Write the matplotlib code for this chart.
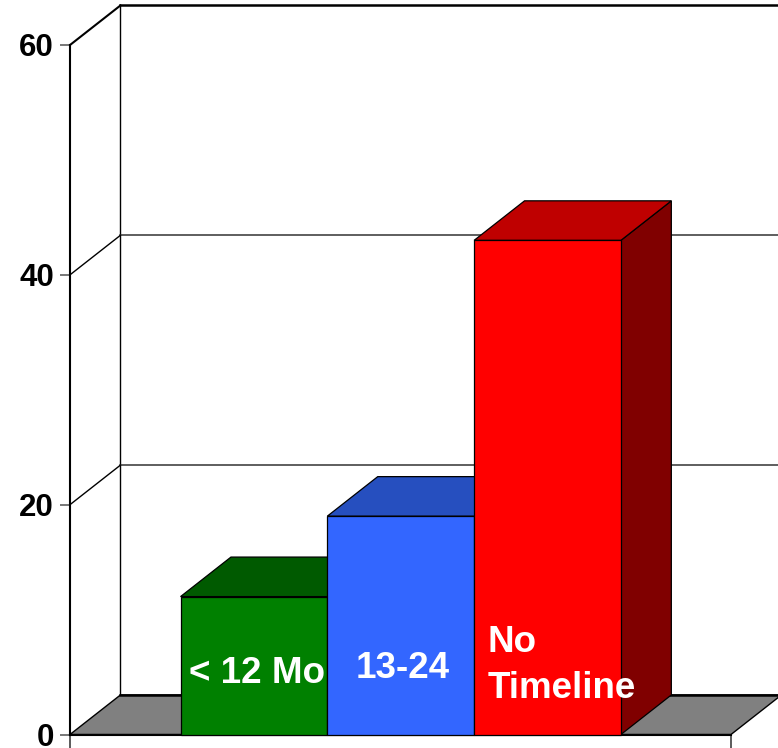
import matplotlib
matplotlib.use("Agg")
import matplotlib.pyplot as plt
from matplotlib.patches import Polygon

plt.rcParams["font.family"] = ["Liberation Sans", "DejaVu Sans"]
plt.rcParams["font.weight"] = "bold"

# Chart data
categories = ["< 12 Mo", "13-24", "No\nTimeline"]
values = [12, 19, 43]
y_ticks = [0, 20, 40, 60]
y_tick_labels = ["0", "20", "40", "60"]

# Face colours for each bar: front, top, side
front_colors = ["#008000", "#3366FF", "#FF0000"]
top_colors = ["#005A00", "#264FBF", "#BF0000"]
side_colors = ["#004000", "#1A3380", "#800000"]

# Geometry of the pseudo-3D box (data units)
bar_width = 1.0
x_min, x_max = -1.253, 3.25
y_min, y_max = 0, 60
depth_x = 0.3435
depth_y = 3.44

fig = plt.figure(figsize=(7.78, 7.48), dpi=100)
ax = fig.add_axes([70 / 778, (748 - 734.5) / 748, 661 / 778, 689.5 / 748])
ax.set_xlim(x_min, x_max)
ax.set_ylim(y_min, y_max)
ax.patch.set_visible(False)

# Back wall: vertical edge, gridlines and top edge
bx = x_min + depth_x
ax.plot([bx, bx], [y_min + depth_y, y_max + depth_y], color="black", lw=1.0,
        clip_on=False, zorder=1)
for t in y_ticks[1:]:
    top = t == y_max
    ax.plot([bx, x_max + depth_x * 2], [t + depth_y, t + depth_y],
            color="black" if top else "#333333", lw=1.8 if top else 1.1,
            clip_on=False, zorder=1)
    # side wall diagonals
    ax.plot([x_min, bx], [t, t + depth_y], color="black",
            lw=1.5 if top else 1.0, clip_on=False, zorder=1)

# Floor
floor = Polygon([(x_min, 0), (x_max, 0), (x_max + depth_x, depth_y),
                 (x_min + depth_x, depth_y)], closed=True,
                facecolor="#808080", edgecolor="black", lw=1.0,
                clip_on=False, zorder=2)
ax.add_patch(floor)
ax.plot([bx, x_max + depth_x], [depth_y, depth_y], color="black", lw=1.8,
        clip_on=False, zorder=2.1)

# Bars
centers = [i for i in range(len(values))]
for i, (c, v) in enumerate(zip(centers, values)):
    x0, x1 = c - bar_width / 2, c + bar_width / 2
    z = 3 + i
    side = Polygon([(x1, 0), (x1 + depth_x, depth_y), (x1 + depth_x, v + depth_y),
                    (x1, v)], closed=True, facecolor=side_colors[i],
                   edgecolor="black", lw=0.9, zorder=z, clip_on=False)
    top = Polygon([(x0, v), (x1, v), (x1 + depth_x, v + depth_y),
                   (x0 + depth_x, v + depth_y)], closed=True,
                  facecolor=top_colors[i], edgecolor="black", lw=0.9,
                  zorder=z, clip_on=False)
    ax.add_patch(side)
    ax.add_patch(top)
    ax.bar(c, v, width=bar_width, color=front_colors[i], edgecolor="black",
           lw=0.9, zorder=z + 0.1, clip_on=False)

# Category labels written inside the bars
label_style = [
    dict(dx=0.02, y=4.48, ha="center"),
    dict(dx=0.01, y=4.9, ha="center"),
    dict(dx=-0.41, y=3.18, ha="left"),
]
for c, lab, st in zip(centers, categories, label_style):
    ax.text(c + st["dx"], st["y"], lab, color="white", fontsize=26.5,
            fontweight="bold", ha=st["ha"], va="baseline", linespacing=1.4,
            zorder=10)

# Axes: spines, ticks, labels
for s in ["top", "right"]:
    ax.spines[s].set_visible(False)
ax.spines["left"].set_linewidth(1.5)
ax.spines["bottom"].set_linewidth(1.5)
ax.spines["left"].set_zorder(2.5)
ax.spines["bottom"].set_zorder(2.5)

ax.set_yticks(y_ticks)
ax.set_yticklabels(y_tick_labels, fontsize=22.5, fontweight="bold")
ax.tick_params(axis="y", length=7.5, width=1.2, color="#606060", pad=4)
ax.set_xticks([x_min, x_max])
ax.set_xticklabels(["", ""])
ax.tick_params(axis="x", length=10, width=1.2, color="#404040", direction="out")

fig.savefig("out.png", dpi=100)
